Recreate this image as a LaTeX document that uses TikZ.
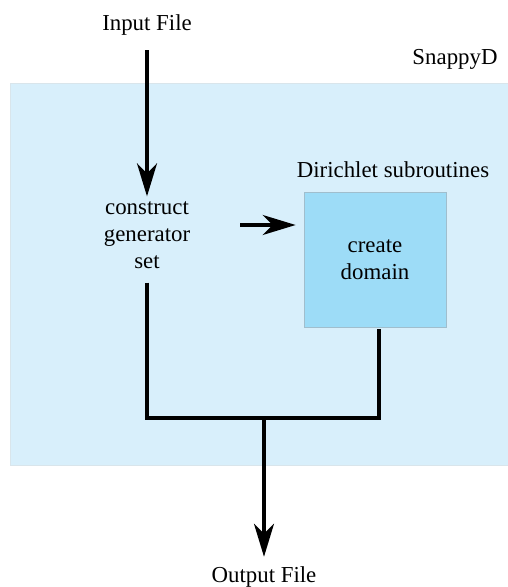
\documentclass[tikz,border=0pt]{standalone}
\usepackage{fontspec}
\setmainfont{Liberation Serif}
\usetikzlibrary{arrows.meta}
\definecolor{panel}{RGB}{216,239,251}
\definecolor{boxfill}{RGB}{157,220,247}
\definecolor{boxline}{RGB}{160,190,205}

\begin{document}
\begin{tikzpicture}[
  txt/.style = {font=\fontsize{13}{15.5}\selectfont\rmfamily, align=center, inner sep=2pt},
  flow/.style = {line width=1.8pt},
  arrow/.style = {flow, -{Stealth[length=0.66cm, width=0.4cm, inset=0.2cm]}}
]
\useasboundingbox (0,0) rectangle (10.16,11.74);
\fill[panel, draw=boxline!40] (0.2,2.44) rectangle (10.3,10.08);
\node[txt] (input) at (2.94,11.24) {Input File};
\node[txt] (snappy) at (9.1,10.56) {SnappyD};
\node[txt] (construct) at (2.94,7.04) {construct\\generator\\set};
\node[txt] (subs) at (7.86,8.34) {Dirichlet subroutines};
\node[txt, fill=boxfill, draw=boxline, line width=0.4pt,
      minimum width=2.84cm, minimum height=2.7cm] (domain) at (7.5,6.55) {create\\domain};
\node[txt] (output) at (5.28,0.2) {Output File};
\coordinate (feed) at (4.8,7.24);
\coordinate (merge) at (5.28,3.38);
\draw[arrow, shorten <=0.22cm, shorten >=0.02cm] (input) -- (construct);
\draw[arrow, shorten >=0.16cm] (feed) -- (feed -| domain.west);
\draw[flow, shorten <=0.2cm, shorten >=0.04cm] (construct) |- (merge) -| ([xshift=0.08cm]domain.south);
\draw[arrow, shorten >=0.12cm] (merge) -- (output);
\end{tikzpicture}
\end{document}
